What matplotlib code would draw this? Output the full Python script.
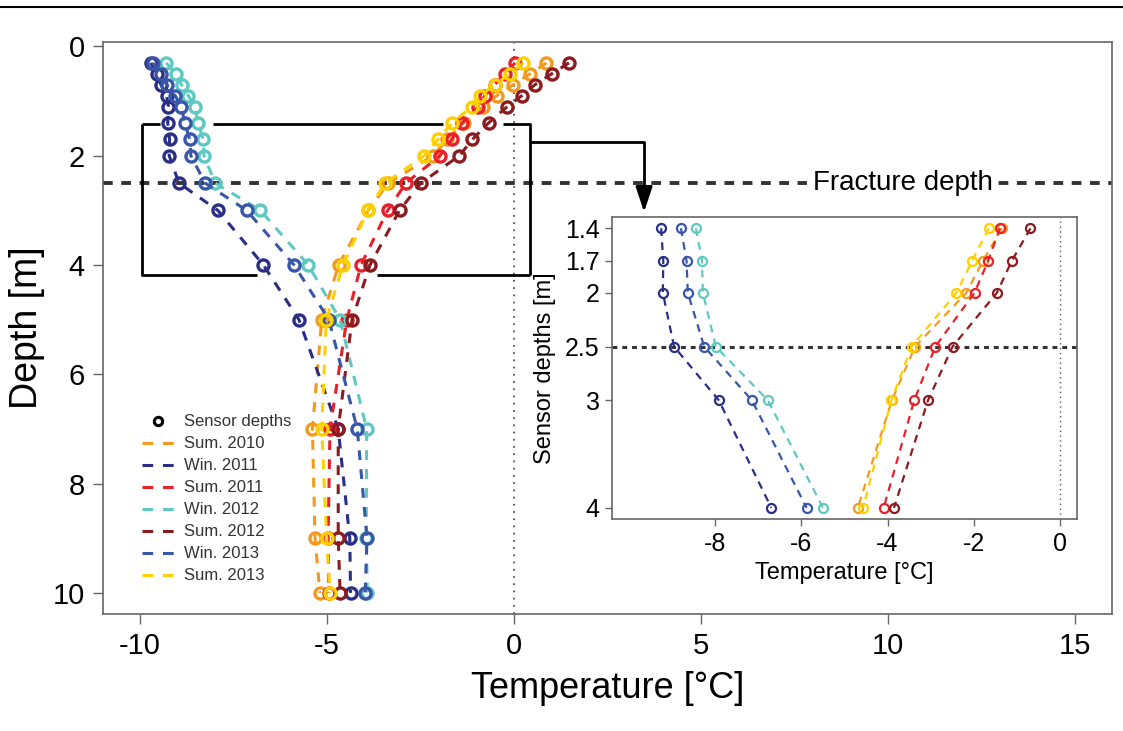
import matplotlib
matplotlib.use("Agg")
import matplotlib.pyplot as plt
from matplotlib.lines import Line2D

plt.rcParams['font.family'] = ['Liberation Sans', 'DejaVu Sans']
plt.rcParams['axes.unicode_minus'] = False

# sensor depths [m]
depths = [0.3, 0.5, 0.7, 0.9, 1.1, 1.4, 1.7, 2.0, 2.5, 3.0, 4.0, 5.0, 7.0, 9.0, 10.0]

# temperatures [deg C]
sum2010 = [0.87, 0.43, -0.02, -0.46, -0.82, -1.34, -1.78, -2.17, -3.36, -3.90, -4.69, -5.14, -5.39, -5.32, -5.19]
win2011 = [-9.71, -9.55, -9.44, -9.29, -9.24, -9.26, -9.21, -9.22, -8.96, -7.92, -6.70, -5.75, -4.70, -4.39, -4.37]
sum2011 = [0.03, -0.24, -0.52, -0.78, -0.95, -1.39, -1.66, -1.98, -2.89, -3.38, -4.09, -4.47, -4.92, -4.97, -4.95]
win2012 = [-9.30, -9.05, -8.89, -8.71, -8.53, -8.45, -8.31, -8.29, -7.99, -6.78, -5.50, -4.65, -3.94, -3.95, -3.92]
sum2012 = [1.47, 1.01, 0.56, 0.21, -0.18, -0.68, -1.11, -1.46, -2.49, -3.06, -3.85, -4.33, -4.70, -4.70, -4.65]
win2013 = [-9.66, -9.45, -9.29, -9.06, -8.90, -8.80, -8.67, -8.64, -8.26, -7.15, -5.88, -4.95, -4.19, -3.93, -3.98]
sum2013 = [0.25, -0.11, -0.51, -0.91, -1.13, -1.65, -2.03, -2.40, -3.44, -3.91, -4.57, -5.02, -5.14, -5.01, -4.92]

names = ["Sum. 2010", "Win. 2011", "Sum. 2011", "Win. 2012", "Sum. 2012", "Win. 2013", "Sum. 2013"]
colors = ["#F39A1E", "#2A2E86", "#E9202A", "#5DC9C1", "#8C1B1F", "#3A56A9", "#FDD000"]
series = [sum2010, win2011, sum2011, win2012, sum2012, win2013, sum2013]

inset_ticks = [1.4, 1.7, 2, 2.5, 3, 4]
inset_ticklabels = ["1.4", "1.7", "2", "2.5", "3", "4"]
fracture = 2.5

fig = plt.figure(figsize=(11.23, 7.31), dpi=100)
fig.add_artist(Line2D([0, 1], [1 - 7/731, 1 - 7/731], transform=fig.transFigure, color='black', lw=1.5))

ax = fig.add_axes([0.0914, 0.160, 0.899, 0.783])
frame = '#666666'

ax.axvline(0, color='#555555', ls=(0, (1, 3)), lw=1.3, zorder=1)
ax.axhline(fracture, color='#333333', ls=(0, (2.5, 2.2)), lw=2.8, zorder=1)
ax.text(10.4, fracture, "Fracture depth", fontsize=20, ha='center', va='center',
        bbox=dict(facecolor='white', edgecolor='none', pad=4), zorder=2)

# zoom box (with gaps where the profiles pass) and connector to the inset
box = dict(color='black', lw=2, zorder=1.5, solid_capstyle='butt')
ax.plot([-9.96, -9.47], [1.41, 1.41], **box)
ax.plot([-8.05, -1.9], [1.41, 1.41], **box)
ax.plot([-0.29, 0.43, 0.43], [1.41, 1.41, 4.19], **box)
ax.plot([-9.96, -9.96, -6.88], [1.41, 4.19, 4.19], **box)
ax.plot([-3.67, 0.43], [4.19, 4.19], **box)
ax.plot([0.43, 3.48, 3.48], [1.75, 1.75, 2.7], **box)
ax.annotate('', xy=(3.48, 3.03), xytext=(3.48, 2.6),
            arrowprops=dict(arrowstyle='-|>,head_length=0.9,head_width=0.3', color='black',
                            lw=2, mutation_scale=17, shrinkA=0, shrinkB=0))

for vals, c, n in zip(series, colors, names):
    ax.plot(vals, depths, color=c, lw=2.2, dashes=(3.2, 3.0), marker='o', ms=8,
            mfc='none', mec=c, mew=2.4, zorder=3)

ax.set_xlim(-11, 16)
ax.set_ylim(10.388, -0.088)
ax.set_xticks([-10, -5, 0, 5, 10, 15])
ax.set_yticks([0, 2, 4, 6, 8, 10])
ax.tick_params(labelsize=21, length=7, width=1, color=frame, pad=6)
for s in ax.spines.values():
    s.set_color(frame)
    s.set_linewidth(1.2)
ax.set_xlabel("Temperature [°C]", fontsize=26, labelpad=8)
ax.set_ylabel("Depth [m]", fontsize=27, labelpad=5)

handles = [Line2D([], [], ls='none', marker='o', ms=6, mfc='none', mec='black', mew=2.2)]
for c in colors:
    handles.append(Line2D([], [], color=c, lw=2.2, dashes=(3.5, 3.2)))
leg = ax.legend(handles, ["Sensor depths"] + names, loc='upper left', bbox_to_anchor=(0.026, 0.372),
                frameon=False, prop={'family': 'Liberation Sans', 'size': 12}, labelspacing=0.42,
                handlelength=1.9, handletextpad=0.6, borderpad=0.3)
for t in leg.get_texts():
    t.set_color('#333333')

# inset
ins = fig.add_axes([0.545, 0.290, 0.414, 0.413])
ins.set_facecolor('white')
ins.axvline(0, color='#555555', ls=(0, (1, 2.5)), lw=1.0, zorder=1)
ins.axhline(fracture, color='#333333', ls=(0, (1.6, 1.6)), lw=2.2, zorder=1)
for vals, c in zip(series, colors):
    sub_d = [d for d in depths if 1.4 <= d <= 4.0]
    sub_v = [v for d, v in zip(depths, vals) if 1.4 <= d <= 4.0]
    ins.plot(sub_v, sub_d, color=c, lw=1.6, dashes=(3.5, 2.8), marker='o', ms=6.5,
             mfc='none', mec=c, mew=1.6, zorder=3)
ins.set_xlim(-10.4, 0.4)
ins.set_ylim(4.104, 1.296)
ins.set_xticks([-8, -6, -4, -2, 0])
ins.set_yticks(inset_ticks)
ins.set_yticklabels(inset_ticklabels)
ins.tick_params(labelsize=18, length=5, width=1, color=frame, pad=4)
for s in ins.spines.values():
    s.set_color(frame)
    s.set_linewidth(1.2)
ins.set_xlabel("Temperature [°C]", fontsize=17, labelpad=5)
ins.set_ylabel("Sensor depths [m]", fontsize=17, labelpad=6)

fig.savefig("out.png", dpi=100)
